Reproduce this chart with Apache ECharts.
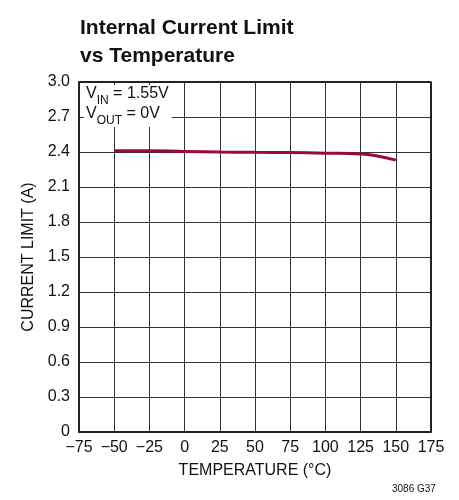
<!DOCTYPE html>
<html>
<head>
<meta charset="utf-8">
<script src="https://cdn.jsdelivr.net/npm/echarts@6/dist/echarts.min.js"></script>
<style>
  html, body { margin: 0; padding: 0; background: #fff; }
  #chart { width: 459px; height: 500px; }
</style>
</head>
<body>
<div id="chart"></div>
<script>
// temperature (°C) vs internal current limit (A)
const temps = [-50, -25, 0, 25, 50, 75, 100, 125, 135, 150]
const currentLimit = [2.41, 2.41, 2.405, 2.4, 2.397, 2.395, 2.39, 2.383, 2.37, 2.33]
const xTicks = [-75, -50, -25, 0, 25, 50, 75, 100, 125, 150, 175]
const yTicks = [0, 0.3, 0.6, 0.9, 1.2, 1.5, 1.8, 2.1, 2.4, 2.7, 3.0]

const FONT = '"Liberation Sans Narrow", "Liberation Sans", Arial, sans-serif'

const chart = echarts.init(document.getElementById('chart'))

const option = {
  animation: false,
  title: {
    text: 'Internal Current Limit\nvs Temperature',
    left: 75,
    top: 9,
    textStyle: {
      fontFamily: FONT,
      fontWeight: 'bold',
      fontSize: 21,
      lineHeight: 28,
      color: '#111',
    },
  },
  grid: { left: 79, right: 28, top: 82, bottom: 68 },
  xAxis: {
    type: 'value',
    min: -75,
    max: 175,
    interval: 25,
    name: 'TEMPERATURE (°C)',
    nameLocation: 'middle',
    nameGap: 31,
    nameTextStyle: { fontFamily: FONT, fontSize: 16, color: '#111' },
    axisLine: { show: true, onZero: false, lineStyle: { color: '#222', width: 2 } },
    axisTick: { show: false },
    axisLabel: {
      fontFamily: FONT,
      fontSize: 16,
      color: '#111',
      margin: 8,
      formatter: v => (v < 0 ? '\u2212' + Math.abs(v) : String(v)),
    },
    splitLine: { show: true, lineStyle: { color: '#333', width: 1 } },
  },
  yAxis: {
    type: 'value',
    min: 0,
    max: 3,
    interval: 0.3,
    name: 'CURRENT LIMIT (A)',
    nameLocation: 'middle',
    nameGap: 40,
    nameTextStyle: { fontFamily: FONT, fontSize: 16, color: '#111' },
    axisLine: { show: true, onZero: false, lineStyle: { color: '#222', width: 2 } },
    axisTick: { show: false },
    axisLabel: {
      fontFamily: FONT,
      fontSize: 16,
      color: '#111',
      margin: 9,
      formatter: v => {
        const t = yTicks.find(y => Math.abs(y - v) < 1e-6)
        if (t === 0) return '0'
        return t !== undefined ? t.toFixed(1) : ''
      },
    },
    splitLine: { show: true, lineStyle: { color: '#333', width: 1 } },
  },
  series: [
    {
      type: 'line',
      data: temps.map((t, i) => [t, currentLimit[i]]),
      smooth: true,
      showSymbol: false,
      lineStyle: { color: '#9a0a36', width: 3 },
      z: 5,
    },
    {
      // right / top border of the plot box
      type: 'line',
      data: [[-75, 3], [175, 3], [175, 0]],
      showSymbol: false,
      silent: true,
      lineStyle: { color: '#222', width: 2 },
      z: 4,
    },
  ],
  graphic: [
    {
      type: 'text',
      left: 84,
      top: 85,
      z: 10,
      style: {
        text: '{m|V}{s|IN}{m| = 1.55V}\n{m|V}{s|OUT}{m| = 0V}',
        backgroundColor: '#fff',
        padding: [1, 3, 1, 2],
        rich: {
          m: { fontFamily: FONT, fontSize: 16, fill: '#111', lineHeight: 20, verticalAlign: 'top' },
          s: { fontFamily: FONT, fontSize: 12, fill: '#111', lineHeight: 20, padding: [9, 0, 0, 0], verticalAlign: 'top' },
        },
      },
    },
    {
      type: 'text',
      left: 392,
      top: 484,
      style: { text: '3086 G37', fontFamily: FONT, fontSize: 10, fill: '#111' },
    },
  ],
}

chart.setOption(option)
</script>
</body>
</html>
